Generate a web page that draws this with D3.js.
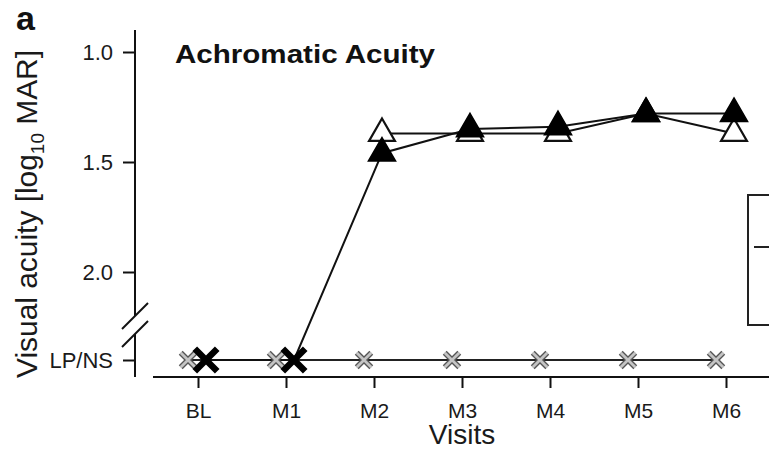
<!DOCTYPE html>
<html>
<head>
<meta charset="utf-8">
<script src="https://cdn.jsdelivr.net/npm/d3@7"></script>
<style>
  body { margin: 0; background: #fff; }
  svg { display: block; font-family: "Liberation Sans", Arial, sans-serif; }
</style>
</head>
<body>
<script>
'use strict';

// visits and values (logMAR, LP/NS = no measurable acuity)
const visits = ["BL", "M1", "M2", "M3", "M4", "M5", "M6"];
const LPNS = 2.4; // position used for the LP/NS category below the axis break
const treatedFilled = [LPNS, LPNS, 1.46, 1.35, 1.34, 1.28, 1.28];
const treatedOpen = [null, null, 1.37, 1.37, 1.37, 1.28, 1.37];
const fellowEye = [LPNS, LPNS, LPNS, LPNS, LPNS, LPNS, LPNS];
const yTicks = [1.0, 1.5, 2.0, LPNS];

const svg = d3.select("body").append("svg")
  .attr("width", 769)
  .attr("height", 450);

const x = d3.scalePoint()
  .domain(visits)
  .range([198, 726]);

const y = d3.scaleLinear()
  .domain([1.0, 2.0])
  .range([52, 272]);

// small horizontal offsets between the two eyes
const offTreated = 8, offFellow = -10;

// y axis (domain drawn by hand because of the break)
const gy = svg.append("g")
  .attr("transform", "translate(135,0)")
  .call(d3.axisLeft(y).tickValues(yTicks).tickSize(12).tickPadding(10)
    .tickFormat(d => d === LPNS ? "LP/NS" : d3.format(".1f")(d)));
gy.select(".domain").remove();
gy.selectAll("line").attr("stroke", "#111").attr("stroke-width", 2);
gy.selectAll("text").attr("font-size", 22).attr("fill", "#1a1a1a")
  .attr("font-family", "Liberation Sans, Arial, sans-serif");

const axisCol = "#111";
svg.append("line").attr("x1", 135).attr("x2", 135).attr("y1", 30).attr("y2", 316)
  .attr("stroke", axisCol).attr("stroke-width", 2);
svg.append("line").attr("x1", 135).attr("x2", 135).attr("y1", 334).attr("y2", 377)
  .attr("stroke", axisCol).attr("stroke-width", 2);
// break marks
[316, 334].forEach(cy => {
  svg.append("line")
    .attr("x1", 122).attr("y1", cy + 13).attr("x2", 148).attr("y2", cy - 13)
    .attr("stroke", axisCol).attr("stroke-width", 2);
});

// x axis
const gx = svg.append("g")
  .attr("transform", "translate(0,377)")
  .call(d3.axisBottom(x).tickSize(11).tickPadding(15).tickSizeOuter(0));
gx.select(".domain").remove();
gx.selectAll("line").attr("stroke", "#111").attr("stroke-width", 2);
gx.selectAll("text").attr("font-size", 21).attr("fill", "#1a1a1a")
  .attr("font-family", "Liberation Sans, Arial, sans-serif");
svg.append("line").attr("x1", 153).attr("x2", 769).attr("y1", 377).attr("y2", 377)
  .attr("stroke", axisCol).attr("stroke-width", 2);

// axis titles
svg.append("text")
  .attr("x", 462).attr("y", 444)
  .attr("text-anchor", "middle")
  .attr("font-size", 28)
  .attr("fill", "#1a1a1a")
  .text("Visits");

const yt = svg.append("text")
  .attr("transform", "translate(37,378) rotate(-90)")
  .attr("text-anchor", "start")
  .attr("font-size", 30)
  .attr("textLength", 328)
  .attr("lengthAdjust", "spacingAndGlyphs")
  .attr("fill", "#1a1a1a");
yt.append("tspan").text("Visual acuity [log");
yt.append("tspan").attr("font-size", 19).attr("dy", 7).text("10");
yt.append("tspan").attr("dy", -7).text(" MAR]");

// panel title and letter
svg.append("text")
  .attr("x", 175).attr("y", 63)
  .attr("font-size", 26).attr("font-weight", "bold")
  .attr("textLength", 260).attr("lengthAdjust", "spacingAndGlyphs")
  .attr("fill", "#111")
  .text("Achromatic Acuity");
svg.append("text")
  .attr("x", 16).attr("y", 30)
  .attr("font-size", 34).attr("font-weight", "bold")
  .attr("fill", "#111")
  .text("a");

// lines
const line = off => d3.line()
  .defined(d => d.v != null)
  .x(d => x(d.visit) + off)
  .y(d => y(d.v));

const pts = arr => arr.map((v, i) => ({visit: visits[i], v: v}));

svg.append("path").datum(pts(fellowEye))
  .attr("d", line(offFellow)).attr("fill", "none")
  .attr("stroke", "#222").attr("stroke-width", 2);
svg.append("path").datum(pts(treatedOpen))
  .attr("d", line(offTreated)).attr("fill", "none")
  .attr("stroke", "#111").attr("stroke-width", 2);
svg.append("path").datum(pts(treatedFilled))
  .attr("d", line(offTreated)).attr("fill", "none")
  .attr("stroke", "#111").attr("stroke-width", 2);

// fellow eye: grey crosses with dark outline
const grayX = d3.symbol().type(d3.symbolX).size(140);
const fe = svg.append("g").selectAll("g")
  .data(pts(fellowEye))
  .enter().append("g")
  .attr("transform", d => `translate(${x(d.visit) + offFellow},${y(d.v)})`);
fe.append("path").attr("d", grayX).attr("stroke", "#555").attr("stroke-width", 5.5).attr("fill", "none");
fe.append("path").attr("d", grayX).attr("stroke", "#c4c4c4").attr("stroke-width", 2.8).attr("fill", "none");

// open triangles
svg.append("g").selectAll("path")
  .data(pts(treatedOpen).filter(d => d.v != null))
  .enter().append("path")
  .attr("transform", d => `translate(${x(d.visit) + offTreated},${y(d.v)})`)
  .attr("d", d3.symbol().type(d3.symbolTriangle).size(290))
  .attr("fill", "#fff").attr("stroke", "#111").attr("stroke-width", 2.2);

// filled series: triangles where measured, bold cross at LP/NS
svg.append("g").selectAll("path")
  .data(pts(treatedFilled))
  .enter().append("path")
  .attr("transform", d => `translate(${x(d.visit) + offTreated},${y(d.v)})`)
  .attr("d", d => d.v === LPNS
    ? d3.symbol().type(d3.symbolX).size(330)()
    : d3.symbol().type(d3.symbolTriangle).size(320)())
  .attr("fill", d => d.v === LPNS ? "none" : "#000")
  .attr("stroke", "#000")
  .attr("stroke-width", d => d.v === LPNS ? 6.5 : 1.5);

// legend box, cut off at the right edge
const lg = svg.append("g").attr("transform", "translate(748,195)");
lg.append("rect").attr("width", 120).attr("height", 130)
  .attr("fill", "#fff").attr("stroke", "#222").attr("stroke-width", 2);
lg.append("line").attr("x1", 6).attr("x2", 50).attr("y1", 52).attr("y2", 52)
  .attr("stroke", "#222").attr("stroke-width", 2);
</script>
</body>
</html>
